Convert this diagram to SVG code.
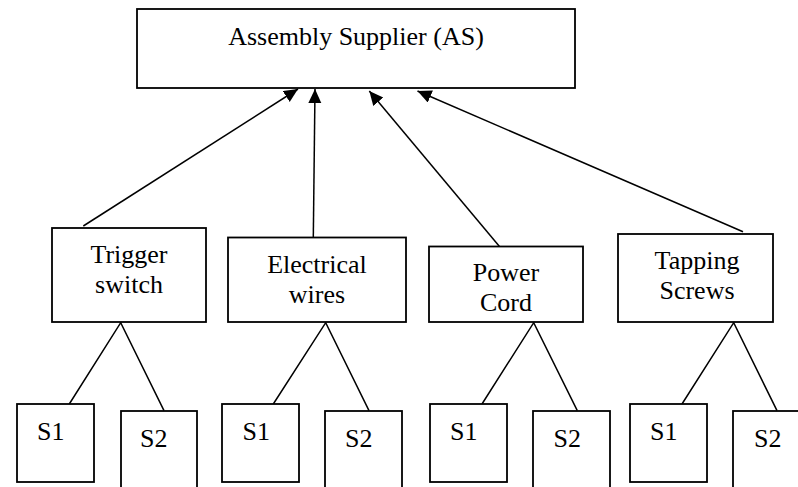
<svg xmlns="http://www.w3.org/2000/svg" width="798" height="487" viewBox="0 0 798 487">
<style>
.box{fill:#fff;stroke:#000;stroke-width:1.8}
.ln{fill:none;stroke:#000;stroke-width:1.5}
.t{font-family:'Liberation Serif','DejaVu Serif',serif;font-size:26px;fill:#000}
.c{text-anchor:middle}
</style>
<defs>
<marker id="ah" markerUnits="userSpaceOnUse" markerWidth="14" markerHeight="14" refX="14" refY="6.5" orient="auto">
<path d="M0,0 L14,6.5 L0,13 z" fill="#000"/>
</marker>
</defs>
<rect width="798" height="487" fill="#fff"/>
<g id="connectors">
<line class="ln" x1="83.3" y1="226" x2="298" y2="89" marker-end="url(#ah)"/>
<line class="ln" x1="313.3" y1="237.3" x2="315" y2="89" marker-end="url(#ah)"/>
<line class="ln" x1="499.7" y1="246.7" x2="369.3" y2="91" marker-end="url(#ah)"/>
<line class="ln" x1="743" y1="231.7" x2="417.5" y2="91" marker-end="url(#ah)"/>
<polyline class="ln" points="69.3,404 120.7,322.7 164,410.7"/>
<polyline class="ln" points="273.3,404 325.7,322.7 369,410.7"/>
<polyline class="ln" points="482,404 533.7,322.7 577.3,410.7"/>
<polyline class="ln" points="682,404 733.7,322.7 777,410.7"/>
</g>
<g id="as">
<rect class="box" x="137" y="9" width="438" height="79"/>
<text class="t c" x="356" y="45">Assembly Supplier (AS)</text>
</g>
<g id="trigger">
<rect class="box" x="52" y="228" width="154" height="94"/>
<text class="t c" x="129" y="263">Trigger</text>
<text class="t c" x="129" y="293">switch</text>
</g>
<g id="electrical">
<rect class="box" x="228" y="237.5" width="178" height="84.5"/>
<text class="t c" x="317" y="273">Electrical</text>
<text class="t c" x="317" y="303">wires</text>
</g>
<g id="power">
<rect class="box" x="429" y="246.5" width="154" height="75.5"/>
<text class="t c" x="506" y="281">Power</text>
<text class="t c" x="506" y="311">Cord</text>
</g>
<g id="tapping">
<rect class="box" x="618" y="234" width="155" height="88"/>
<text class="t c" x="697" y="269">Tapping</text>
<text class="t c" x="697" y="299">Screws</text>
</g>
<g id="ts-s1"><rect class="box" x="17" y="404" width="77" height="78"/><text class="t" x="37" y="440">S1</text></g>
<g id="ts-s2"><rect class="box" x="121" y="411" width="76" height="90"/><text class="t" x="140" y="447">S2</text></g>
<g id="ew-s1"><rect class="box" x="222" y="404" width="77" height="78"/><text class="t" x="242.5" y="440">S1</text></g>
<g id="ew-s2"><rect class="box" x="325" y="411" width="77" height="90"/><text class="t" x="345" y="447">S2</text></g>
<g id="pc-s1"><rect class="box" x="430" y="404" width="77" height="78"/><text class="t" x="450" y="440">S1</text></g>
<g id="pc-s2"><rect class="box" x="533" y="411" width="77" height="90"/><text class="t" x="553.5" y="447">S2</text></g>
<g id="tp-s1"><rect class="box" x="630" y="404" width="77" height="78"/><text class="t" x="650" y="440">S1</text></g>
<g id="tp-s2"><rect class="box" x="733" y="411" width="77" height="90"/><text class="t" x="754" y="447">S2</text></g>
</svg>
